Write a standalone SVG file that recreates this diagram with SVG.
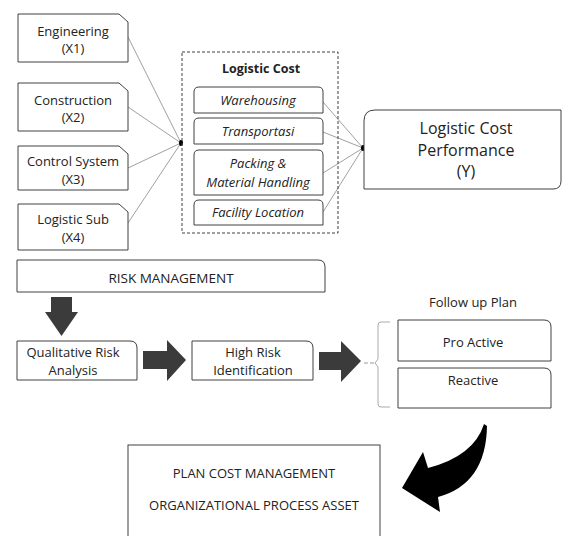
<svg xmlns="http://www.w3.org/2000/svg" width="563" height="536" viewBox="0 0 563 536">
<style>
text{font-family:"Open Sans","Noto Sans",sans-serif;fill:#222;text-anchor:middle}
.box{fill:#fff;stroke:#404040;stroke-width:1}
.t13{font-size:13px}
.it{font-style:italic;font-size:13px}
.conn{stroke:#777;stroke-width:0.7;fill:none}
.blk{fill:#3b3b3b}
</style>
<rect width="563" height="536" fill="#fff"/>
<g id="connectors">
  <line class="conn" x1="128" y1="37" x2="181" y2="143"/>
  <line class="conn" x1="128" y1="107" x2="181" y2="143"/>
  <line class="conn" x1="128" y1="168" x2="181" y2="143"/>
  <line class="conn" x1="128" y1="223" x2="181" y2="143"/>
  <ellipse cx="181" cy="143" rx="2" ry="3" fill="#000"/>
  <line class="conn" x1="323" y1="102" x2="363" y2="148"/>
  <line class="conn" x1="323" y1="132" x2="363" y2="148"/>
  <line class="conn" x1="323" y1="173" x2="363" y2="148"/>
  <line class="conn" x1="323" y1="212" x2="363" y2="148"/>
  <ellipse cx="363" cy="148" rx="2" ry="3" fill="#000"/>
  <polygon class="blk" points="51,297 72,297 72,312 78,312 61.5,336 45,312 51,312"/>
  <polygon class="blk" points="143,351 167,351 167,340 186,360 167,381 167,369 143,369"/>
  <polygon class="blk" points="319,352 341,352 341,341 361,361 341,382 341,370 319,370"/>
  <line x1="364" y1="363" x2="375" y2="363" stroke="#999" stroke-width="1" stroke-dasharray="4 2"/>
  <path d="M390,322 H381 Q378,322 378,325 V359 L375,363 L378,367 V404 Q378,407 381,407 H390" fill="none" stroke="#aaa" stroke-width="1"/>
  <path d="M484,424 L487,426 Q486,484 438,497 L440,512 L402,488 L423,452 L428,468 Q474,456 484,424 Z" fill="#000"/>
</g>
<g id="x1">
  <path class="box" d="M18,14 H119 L128,22 V62 H18 Z"/>
  <text class="t13" x="73" y="36">Engineering</text>
  <text class="t13" x="73" y="53">(X1)</text>
</g>
<g id="x2">
  <path class="box" d="M18,83 H119 L128,91 V131 H18 Z"/>
  <text class="t13" x="73" y="105">Construction</text>
  <text class="t13" x="73" y="122">(X2)</text>
</g>
<g id="x3">
  <path class="box" d="M18,146 H119 L128,154 V190 H18 Z"/>
  <text class="t13" x="73" y="166">Control System</text>
  <text class="t13" x="73" y="184">(X3)</text>
</g>
<g id="x4">
  <path class="box" d="M18,204 H119 L128,212 V250 H18 Z"/>
  <text class="t13" x="73" y="224">Logistic Sub</text>
  <text class="t13" x="73" y="242">(X4)</text>
</g>
<g id="logistic-cost">
  <rect x="182" y="52" width="156" height="181" fill="none" stroke="#404040" stroke-width="1" stroke-dasharray="3 2"/>
  <text x="261" y="73" style="font-size:12.5px;font-weight:bold">Logistic Cost</text>
</g>
<g id="warehousing">
  <path class="box" d="M194,113 V92 Q194,87 199,87 H318 Q323,87 323,92 V113 Z"/>
  <text class="it" x="258" y="105">Warehousing</text>
</g>
<g id="transportasi">
  <path class="box" d="M194,144 V123 Q194,118 199,118 H318 Q323,118 323,123 V144 Z"/>
  <text class="it" x="258" y="136">Transportasi</text>
</g>
<g id="packing">
  <path class="box" d="M194,195 V155 Q194,150 199,150 H318 Q323,150 323,155 V195 Z"/>
  <text class="it" x="258" y="168">Packing &amp;</text>
  <text class="it" x="258" y="187">Material Handling</text>
</g>
<g id="facility">
  <path class="box" d="M194,225 V205 Q194,200 199,200 H318 Q323,200 323,205 V225 Z"/>
  <text class="it" x="258" y="217">Facility Location</text>
</g>
<g id="y">
  <path class="box" d="M364,189 V121 Q364,110 375,110 H561 V181 Q561,189 553,189 Z"/>
  <text x="466" y="134" style="font-size:16px">Logistic Cost</text>
  <text x="466" y="156" style="font-size:16px">Performance</text>
  <text x="466" y="177" style="font-size:16px">(Y)</text>
</g>
<g id="risk-management">
  <path class="box" d="M17,260 H318 Q325,260 325,267 V292 H17 Z"/>
  <text x="171" y="283" style="font-size:13.5px">RISK MANAGEMENT</text>
</g>
<g id="qualitative">
  <path class="box" d="M17,341 H130 Q137,341 137,348 V380 H17 Z"/>
  <text class="t13" x="73" y="357">Qualitative Risk</text>
  <text class="t13" x="73" y="375">Analysis</text>
</g>
<g id="high-risk">
  <path class="box" d="M192,341 H306 Q313,341 313,348 V380 H192 Z"/>
  <text class="t13" x="253" y="357">High Risk</text>
  <text class="t13" x="253" y="375">Identification</text>
</g>
<g id="follow-up">
  <text class="t13" x="473" y="307">Follow up Plan</text>
</g>
<g id="pro-active">
  <path class="box" d="M398,320 H544 Q551,320 551,327 V361 H398 Z"/>
  <text class="t13" x="473" y="347">Pro Active</text>
</g>
<g id="reactive">
  <path class="box" d="M398,368 H544 Q551,368 551,375 V408 H398 Z"/>
  <text class="t13" x="473" y="385">Reactive</text>
</g>
<g id="plan-cost">
  <rect class="box" x="128" y="445" width="252" height="100"/>
  <text x="254" y="478" style="font-size:13px">PLAN COST MANAGEMENT</text>
  <text x="254" y="510" style="font-size:13px">ORGANIZATIONAL PROCESS ASSET</text>
</g>
</svg>
